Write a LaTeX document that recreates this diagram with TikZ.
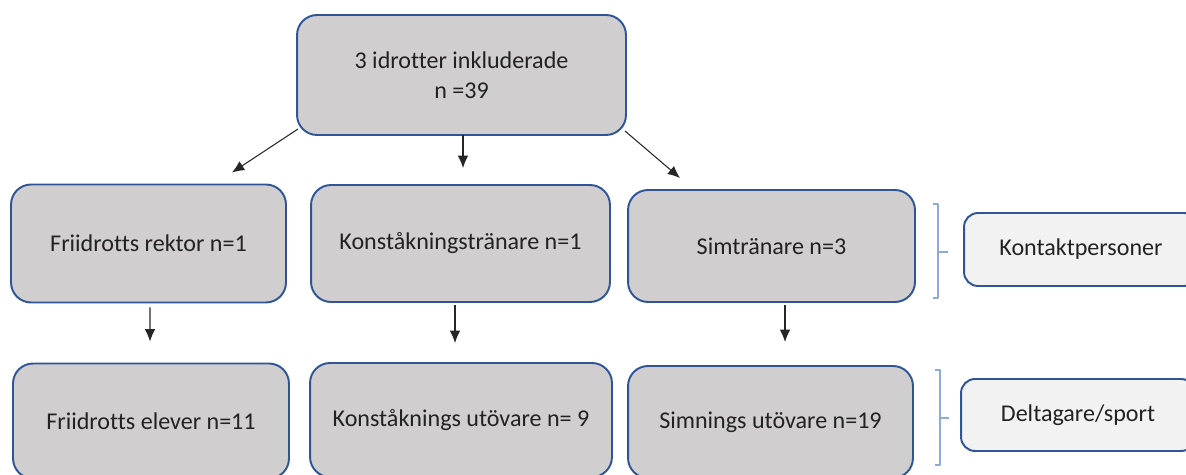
\documentclass[tikz,border=0pt]{standalone}
\usepackage{fontspec}
\setmainfont[Ligatures=NoCommon]{Carlito}
\usetikzlibrary{arrows.meta}
\definecolor{boxfill}{HTML}{D0CECE}
\definecolor{boxline}{HTML}{2F5597}
\definecolor{notefill}{HTML}{F2F2F2}
\definecolor{bracket}{HTML}{8EAADB}
\definecolor{txt}{HTML}{222222}
\tikzset{
  box/.style={draw=boxline, fill=boxfill, line width=1.1pt, rounded corners=0.4cm,
    inner sep=2pt, outer sep=0pt, align=center, text=txt},
  note/.style={draw=boxline, fill=notefill, line width=1.1pt, rounded corners=0.28cm,
    inner sep=2pt, outer sep=0pt, align=center, text=txt},
  arr/.style={-{Latex[length=7pt,width=6pt]}, line width=0.6pt, black!85},
  brk/.style={draw=bracket, line width=0.8pt}
}
\begin{document}
\begin{tikzpicture}[x=0.02cm, y=-0.02cm, line join=round,
    font=\fontsize{13.7}{17}\selectfont]
  \useasboundingbox (0,0) rectangle (1186,475);
  % top
  \node[box, minimum width=6.58cm, minimum height=2.4cm] (top) at (461.5,75)
    {3 idrotter inkluderade\\n =39};
  % contact persons
  \node[box, minimum width=5.5cm, minimum height=2.36cm] (rektor) at (148.5,243.5)
    {Friidrotts rektor n=1};
  \node[box, minimum width=5.98cm, minimum height=2.34cm] (konst) at (460.5,243.5)
    {Konståkningstränare n=1};
  \node[box, minimum width=5.74cm, minimum height=2.24cm] (sim) at (771.5,246)
    {Simtränare n=3};
  % participants
  \node[box, minimum width=5.52cm, minimum height=2.3cm] (elever) at (151,421)
    {Friidrotts elever n=11};
  \node[box, minimum width=6.04cm, minimum height=2.28cm] (konstut) at (461,420)
    {Konståknings utövare n= 9};
  \node[box, minimum width=5.7cm, minimum height=2.24cm] (simut) at (770.5,422)
    {Simnings utövare n=19};
  % legend
  \node[note, minimum width=4.68cm, minimum height=1.46cm] (kontakt) at (1081,249.5)
    {Kontaktpersoner};
  \node[note, minimum width=4.68cm, minimum height=1.44cm] (delt) at (1078,415)
    {Deltagare/sport};

  \draw[arr] ([shift={(1,-6)}]top.south west) -- ([shift={(-54,-12)}]rektor.north east);
  \draw[arr] ([shift={(1.5,0)}]top.south) -- ([shift={(2.5,-17)}]konst.north);
  \draw[arr] ([shift={(-1,-4)}]top.south east) -- ([shift={(52,-12)}]sim.north west);
  \draw[arr] ([shift={(1.5,5)}]rektor.south) -- ([shift={(-1,-22)}]elever.north);
  \draw[arr] ([shift={(-5.5,3)}]konst.south) -- ([shift={(-6,-20)}]konstut.north);
  \draw[arr] ([shift={(13.5,3)}]sim.south) -- ([shift={(14.5,-24)}]simut.north);

  \draw[brk] (933,204) -- (938,204) -- (938,298) -- (933,298)
    (938,252) -- (948,252);
  \draw[brk] (935,370) -- (940,370) -- (940,465) -- (935,465)
    (940,418) -- (949,418);
\end{tikzpicture}
\end{document}
